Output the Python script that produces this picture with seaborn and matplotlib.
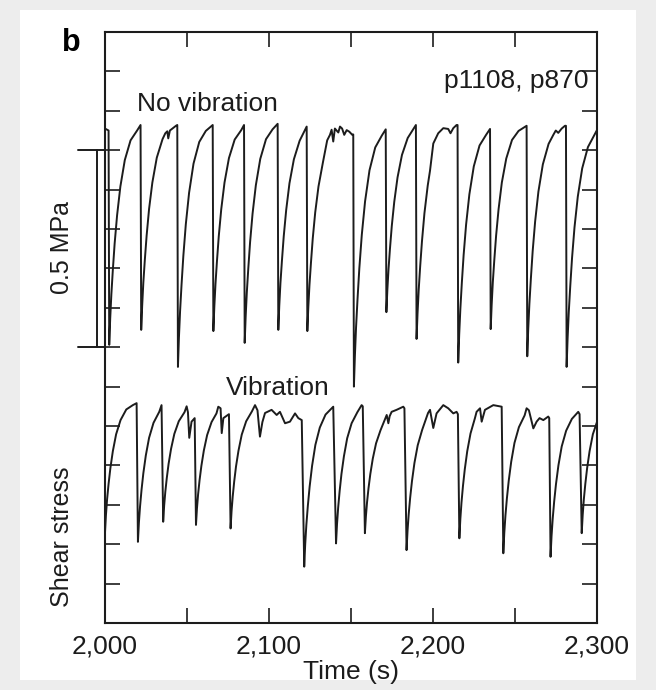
import matplotlib
matplotlib.use('Agg')
import numpy as np
import pandas as pd
import seaborn as sns
import matplotlib.pyplot as plt
import matplotlib.transforms as mtransforms
from matplotlib.patches import Rectangle

# shear stress (MPa, arbitrary offset), one row per stick-slip cycle
novib_time = [
    2000.0, 2002.2,
    2002.6, 2003.2, 2003.9, 2004.8, 2005.9, 2007.4, 2009.4, 2012.1, 2015.6, 2019.6, 2021.7,
    2022.1, 2022.7, 2023.4, 2024.3, 2025.4, 2026.9, 2028.9, 2031.6, 2035.1, 2036.8, 2038.0, 2038.6, 2039.6, 2043.3, 2044.1,
    2044.5, 2045.1, 2045.8, 2046.7, 2047.8, 2049.3, 2051.3, 2054.0, 2057.5, 2061.5, 2065.7,
    2066.1, 2066.7, 2067.4, 2068.3, 2069.4, 2070.9, 2072.9, 2075.6, 2079.1, 2083.1, 2084.8,
    2085.2, 2085.8, 2086.5, 2087.4, 2088.5, 2090.0, 2092.0, 2094.7, 2098.2, 2102.2, 2105.3,
    2105.7, 2106.3, 2107.0, 2107.9, 2109.0, 2110.5, 2112.5, 2115.2, 2118.7, 2123.0,
    2123.4, 2124.0, 2124.7, 2125.6, 2126.7, 2128.2, 2130.2, 2132.9, 2135.5, 2137.2, 2138.2, 2139.2, 2140.2, 2142.3, 2143.3, 2144.6, 2145.9, 2147.4, 2149.0, 2150.8, 2151.4,
    2151.8, 2152.4, 2153.1, 2154.0, 2155.1, 2156.6, 2158.6, 2161.3, 2164.8, 2168.8, 2171.2,
    2171.6, 2172.2, 2172.9, 2173.8, 2174.9, 2176.4, 2178.4, 2181.1, 2184.6, 2189.6,
    2190.0, 2190.6, 2191.3, 2192.2, 2193.3, 2194.8, 2196.8, 2198.2, 2200.2, 2203.2, 2206.3, 2209.3, 2210.7, 2212.4, 2214.4, 2215.0,
    2215.4, 2216.0, 2216.7, 2217.6, 2218.7, 2220.2, 2222.2, 2224.9, 2228.4, 2232.4, 2234.8,
    2235.2, 2235.8, 2236.5, 2237.4, 2238.5, 2240.0, 2242.0, 2244.7, 2248.2, 2252.2, 2257.1,
    2257.5, 2258.1, 2258.8, 2259.7, 2260.8, 2262.3, 2264.3, 2267.0, 2270.5, 2273.4, 2274.9, 2276.4, 2278.5, 2280.5, 2281.1,
    2281.5, 2282.1, 2282.8, 2283.7, 2284.8, 2286.3, 2288.3, 2291.0, 2294.5, 2297.8, 2299.0, 2300.0]
novib_stress = [
    1.255, 1.250,
    0.706, 0.773, 0.834, 0.896, 0.963, 1.035, 1.108, 1.175, 1.225, 1.250, 1.264,
    0.744, 0.806, 0.864, 0.921, 0.983, 1.051, 1.118, 1.181, 1.228, 1.243, 1.248, 1.230, 1.250, 1.262, 1.264,
    0.650, 0.724, 0.791, 0.859, 0.932, 1.012, 1.092, 1.166, 1.221, 1.249, 1.264,
    0.741, 0.804, 0.861, 0.919, 0.982, 1.050, 1.118, 1.180, 1.227, 1.251, 1.264,
    0.711, 0.778, 0.839, 0.900, 0.967, 1.039, 1.111, 1.178, 1.228, 1.253, 1.267,
    0.744, 0.806, 0.863, 0.919, 0.981, 1.048, 1.116, 1.177, 1.224, 1.260,
    0.741, 0.802, 0.858, 0.914, 0.976, 1.042, 1.108, 1.169, 1.225, 1.239, 1.252, 1.222, 1.255, 1.245, 1.260, 1.255, 1.239, 1.251, 1.247, 1.239, 1.240,
    0.600, 0.678, 0.750, 0.822, 0.900, 0.985, 1.070, 1.149, 1.207, 1.237, 1.253,
    0.789, 0.846, 0.898, 0.951, 1.008, 1.069, 1.131, 1.188, 1.231, 1.264,
    0.721, 0.786, 0.845, 0.905, 0.969, 1.040, 1.110, 1.148, 1.217, 1.243, 1.256, 1.254, 1.243, 1.256, 1.264, 1.264,
    0.661, 0.732, 0.797, 0.863, 0.934, 1.011, 1.088, 1.159, 1.212, 1.239, 1.254,
    0.746, 0.808, 0.865, 0.921, 0.983, 1.050, 1.118, 1.179, 1.226, 1.249, 1.262,
    0.677, 0.747, 0.810, 0.874, 0.944, 1.019, 1.095, 1.164, 1.216, 1.239, 1.250, 1.244, 1.255, 1.262, 1.262,
    0.650, 0.722, 0.788, 0.854, 0.926, 1.004, 1.082, 1.154, 1.208, 1.234, 1.243, 1.251]

vib_time = [
    2000.0, 2000.6, 2001.3, 2002.2, 2003.3, 2004.8, 2006.8, 2009.5, 2013.0, 2017.0, 2019.3,
    2020.1, 2020.7, 2021.4, 2022.3, 2023.4, 2024.9, 2026.9, 2029.6, 2033.1, 2034.5,
    2035.5, 2036.1, 2036.8, 2037.7, 2038.8, 2040.3, 2042.3, 2045.0, 2048.5, 2049.8, 2050.6, 2051.4, 2052.8, 2054.7,
    2055.5, 2056.1, 2056.8, 2057.7, 2058.8, 2060.3, 2062.3, 2065.0, 2068.0, 2069.1, 2070.5, 2071.2, 2072.2, 2075.6,
    2076.6, 2077.2, 2077.9, 2078.8, 2079.9, 2081.4, 2083.4, 2086.1, 2089.6, 2091.5, 2093.0, 2094.5, 2096.0, 2097.6, 2101.6, 2104.7, 2106.7, 2109.8, 2112.8, 2115.9, 2117.9, 2120.0,
    2121.5, 2122.1, 2122.8, 2123.7, 2124.8, 2126.3, 2128.3, 2131.0, 2134.5, 2137.5, 2139.2,
    2140.9, 2141.5, 2142.2, 2143.1, 2144.2, 2145.7, 2147.7, 2150.4, 2153.9, 2156.5, 2157.2,
    2158.5, 2159.1, 2159.8, 2160.7, 2161.8, 2163.3, 2165.3, 2168.0, 2171.8, 2172.8, 2173.6, 2174.8, 2177.8, 2181.9, 2182.6,
    2183.9, 2184.5, 2185.2, 2186.1, 2187.2, 2188.7, 2190.7, 2193.4, 2197.0, 2198.2, 2200.2, 2202.2, 2206.3, 2209.3, 2212.4, 2214.4, 2215.2,
    2216.1, 2216.7, 2217.4, 2218.3, 2219.4, 2220.9, 2222.9, 2225.6, 2226.6, 2228.7, 2229.7, 2231.7, 2236.8, 2241.9,
    2242.9, 2243.5, 2244.2, 2245.1, 2246.2, 2247.7, 2249.7, 2252.4, 2255.9, 2257.1, 2258.5, 2260.2, 2261.2, 2263.2, 2265.0, 2267.3, 2270.3, 2270.9,
    2271.7, 2272.3, 2273.0, 2273.9, 2275.0, 2276.5, 2278.5, 2281.2, 2284.7, 2288.6, 2289.4,
    2290.7, 2291.3, 2292.0, 2292.9, 2294.0, 2295.5, 2297.5, 2300.0]
vib_stress = [
    0.228, 0.274, 0.314, 0.353, 0.393, 0.436, 0.479, 0.515, 0.542, 0.553, 0.558,
    0.206, 0.255, 0.296, 0.338, 0.380, 0.425, 0.470, 0.508, 0.536, 0.553,
    0.257, 0.298, 0.333, 0.368, 0.404, 0.442, 0.480, 0.512, 0.535, 0.550, 0.535, 0.470, 0.511, 0.520,
    0.249, 0.291, 0.327, 0.363, 0.399, 0.438, 0.477, 0.510, 0.532, 0.549, 0.545, 0.482, 0.520, 0.530,
    0.240, 0.284, 0.321, 0.359, 0.397, 0.437, 0.478, 0.512, 0.537, 0.553, 0.540, 0.473, 0.510, 0.533, 0.541, 0.528, 0.536, 0.507, 0.511, 0.532, 0.520, 0.515,
    0.143, 0.200, 0.249, 0.297, 0.346, 0.399, 0.452, 0.496, 0.529, 0.542, 0.549,
    0.202, 0.251, 0.293, 0.335, 0.378, 0.423, 0.469, 0.507, 0.535, 0.553, 0.550,
    0.228, 0.270, 0.306, 0.342, 0.378, 0.417, 0.456, 0.489, 0.528, 0.507, 0.525, 0.536, 0.541, 0.549, 0.545,
    0.185, 0.234, 0.276, 0.318, 0.360, 0.406, 0.451, 0.490, 0.533, 0.541, 0.495, 0.532, 0.553, 0.545, 0.532, 0.536, 0.530,
    0.215, 0.264, 0.306, 0.348, 0.390, 0.436, 0.481, 0.520, 0.536, 0.545, 0.511, 0.541, 0.553, 0.549,
    0.177, 0.229, 0.273, 0.317, 0.361, 0.409, 0.457, 0.497, 0.527, 0.545, 0.540, 0.511, 0.494, 0.511, 0.520, 0.515, 0.524, 0.520,
    0.168, 0.220, 0.264, 0.308, 0.352, 0.400, 0.448, 0.488, 0.518, 0.536, 0.530,
    0.228, 0.274, 0.314, 0.353, 0.393, 0.436, 0.479, 0.510]

xtick_vals = [2000, 2050, 2100, 2150, 2200, 2250, 2300]
xtick_labels = ['2,000', '', '2,100', '', '2,200', '', '2,300']
ytick_vals = [0.1, 0.2, 0.3, 0.4, 0.5, 0.6, 0.7, 0.8, 0.9, 1.0, 1.1, 1.2, 1.3, 1.4]
bar_bottom, bar_len = 0.7, 0.5   # 0.5 MPa scale bar

ink = '#1c1c1c'

sns.set_theme(style='white')
plt.rcParams['font.family'] = ['Liberation Sans', 'DejaVu Sans']

df = pd.concat([
    pd.DataFrame({'time': novib_time, 'stress': novib_stress, 'run': 'No vibration'}),
    pd.DataFrame({'time': vib_time, 'stress': vib_stress, 'run': 'Vibration'}),
])

fig = plt.figure(figsize=(6.56, 6.90), dpi=100, facecolor='#ededed')
fig.patches.append(Rectangle((20/656, 1 - 680/690), 616/656, 670/690,
                             transform=fig.transFigure, facecolor='white',
                             edgecolor='none', zorder=-10))
ax = fig.add_axes([0.160, 0.0971, 0.750, 0.8565])
ax.set_zorder(5)

sns.lineplot(data=df, x='time', y='stress', hue='run',
             palette={'No vibration': ink, 'Vibration': ink},
             sort=False, estimator=None, legend=False, lw=1.4, ax=ax)

ax.set_xlim(2000, 2300)
ax.set_ylim(0, 1.5)
ax.set_xticks(xtick_vals)
ax.set_xticklabels(xtick_labels)
ax.set_yticks(ytick_vals)
ax.set_yticklabels([])
ax.tick_params(direction='in', length=11, width=1.2,
               bottom=True, left=True, top=True, right=True,
               color=ink, labelcolor=ink, labelsize=19, pad=8)
for s in ax.spines.values():
    s.set_color(ink)
    s.set_linewidth(1.5)
ax.set_xlabel('Time (s)', fontsize=19, color=ink, labelpad=1)
ax.set_ylabel('')

# scale bar on the left
trans = mtransforms.blended_transform_factory(ax.transAxes, ax.transData)
kw = dict(transform=trans, clip_on=False, color=ink, lw=1.4)
ax.plot([-0.0163, -0.0163], [bar_bottom, bar_bottom + bar_len], **kw)
ax.plot([-0.055, 0], [bar_bottom, bar_bottom], **kw)
ax.plot([-0.055, 0], [bar_bottom + bar_len, bar_bottom + bar_len], **kw)

ax.text(-0.0874, 0.635, '0.5 MPa', transform=ax.transAxes, rotation=90,
        ha='center', va='center', fontsize=18, color=ink)
ax.text(-0.0874, 0.1455, 'Shear stress', transform=ax.transAxes, rotation=90,
        ha='center', va='center', fontsize=18, color=ink)
ax.text(0.065, 0.878, 'No vibration', transform=ax.transAxes,
        ha='left', va='center', fontsize=19, color=ink)
ax.text(0.246, 0.398, 'Vibration', transform=ax.transAxes,
        ha='left', va='center', fontsize=19, color=ink)
ax.text(0.982, 0.917, 'p1108, p870', transform=ax.transAxes,
        ha='right', va='center', fontsize=19, color=ink)
ax.text(-0.069, 0.982, 'b', transform=ax.transAxes, ha='center', va='center',
        fontsize=22, fontweight='heavy', color='black')

fig.savefig('out.png', dpi=100, facecolor=fig.get_facecolor())
